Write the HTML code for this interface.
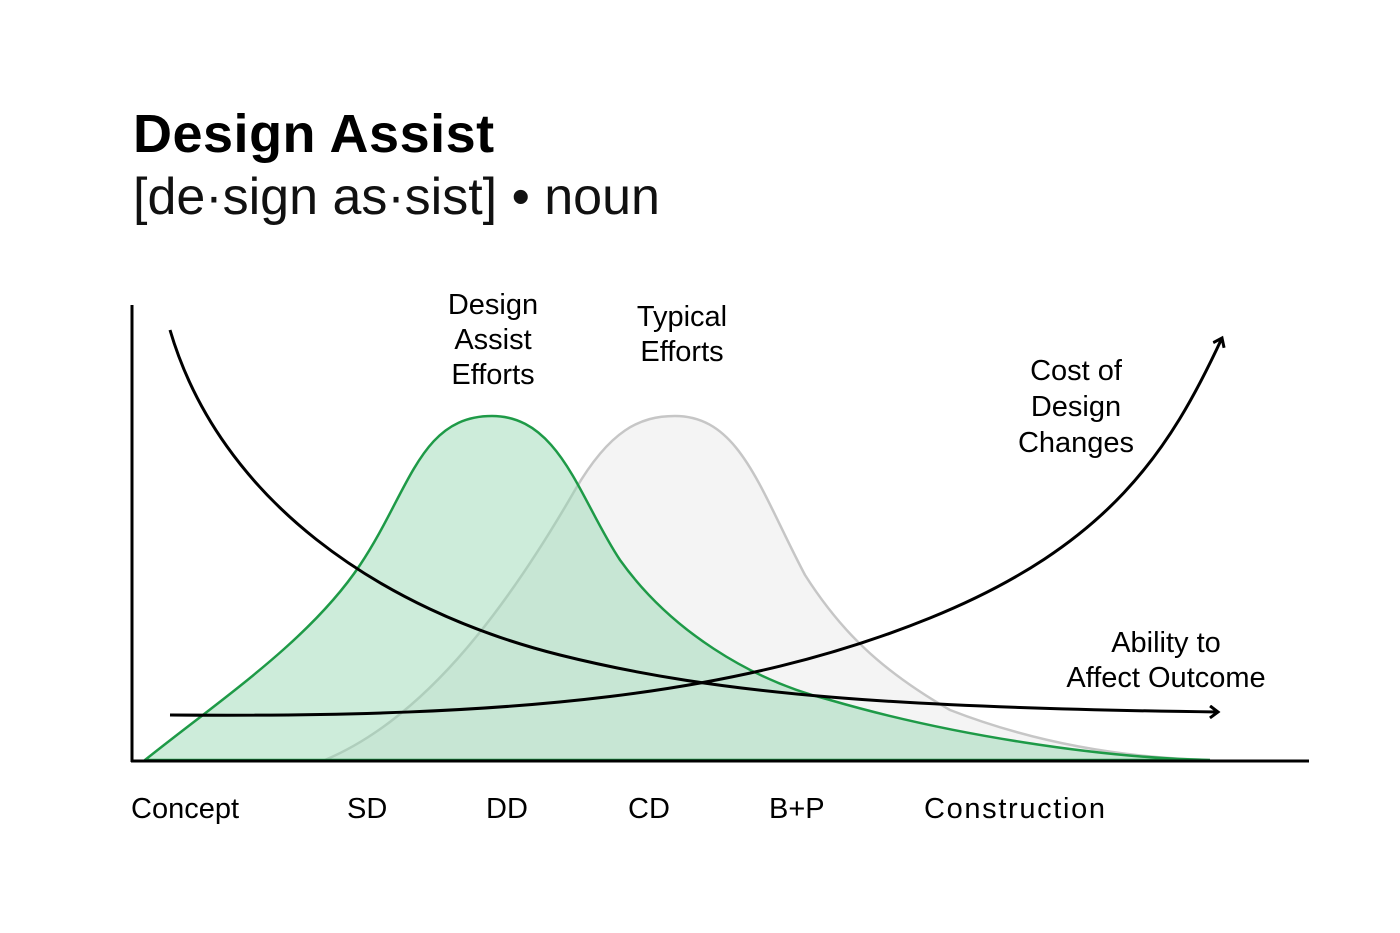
<!DOCTYPE html>
<html><head><meta charset="utf-8"><style>
html,body{margin:0;padding:0;background:#fff;}
svg{display:block;font-family:"Liberation Sans",sans-serif;}
</style></head><body>
<svg width="1400" height="933" viewBox="0 0 1400 933" xmlns="http://www.w3.org/2000/svg">
<rect width="1400" height="933" fill="#fff"/>
<text x="133" y="152" font-size="54" font-weight="bold" fill="#000" letter-spacing="0.5">Design Assist</text>
<text x="133" y="214" font-size="52" fill="#111">[de·sign as·sist] • noun</text>
<defs>
<marker id="ah" markerWidth="14" markerHeight="14" refX="10" refY="7" orient="auto" markerUnits="userSpaceOnUse">
<path d="M2,1 L10,7 L2,13" fill="none" stroke="#000" stroke-width="3"/>
</marker>
</defs>
<path d="M325,760 C420,720 500,620 575,490 C610,430 640,416 675,416 C740,416 760,490 805,575 C840,630 880,670 950,710 C1040,745 1130,758 1210,760 Z" fill="#f4f4f4" stroke="#c6c6c6" stroke-width="2.5"/>
<path d="M145,760 C220,700 310,640 360,565 C410,490 420,416 492,416 C560,416 580,500 620,560 C670,630 750,680 830,700 C950,735 1100,758 1210,760 Z" fill="rgba(150,215,178,0.48)" stroke="#1e9a47" stroke-width="2.5"/>
<path d="M170,330 C220,500 380,610 560,655 C720,695 900,708 1218,712" fill="none" stroke="#000" stroke-width="3" marker-end="url(#ah)"/>
<path d="M170,715 C520,718 740,695 930,618 C1110,545 1170,450 1222,338" fill="none" stroke="#000" stroke-width="3" marker-end="url(#ah)"/>
<line x1="132" y1="305" x2="132" y2="762" stroke="#000" stroke-width="3"/>
<line x1="131" y1="761" x2="1309" y2="761" stroke="#000" stroke-width="3"/>
<g font-size="29" fill="#000" text-anchor="middle">
<text x="493" y="314">Design</text>
<text x="493" y="349">Assist</text>
<text x="493" y="384">Efforts</text>
<text x="682" y="326">Typical</text>
<text x="682" y="361">Efforts</text>
<text x="1076" y="380">Cost of</text>
<text x="1076" y="416">Design</text>
<text x="1076" y="452">Changes</text>
<text x="1166" y="652">Ability to</text>
<text x="1166" y="687">Affect Outcome</text>
</g>
<g font-size="29" fill="#000">
<text x="131" y="818">Concept</text>
<text x="347" y="818">SD</text>
<text x="486" y="818">DD</text>
<text x="628" y="818">CD</text>
<text x="769" y="818">B+P</text>
<text x="924" y="818" textLength="181">Construction</text>
</g>
</svg>
</body></html>
